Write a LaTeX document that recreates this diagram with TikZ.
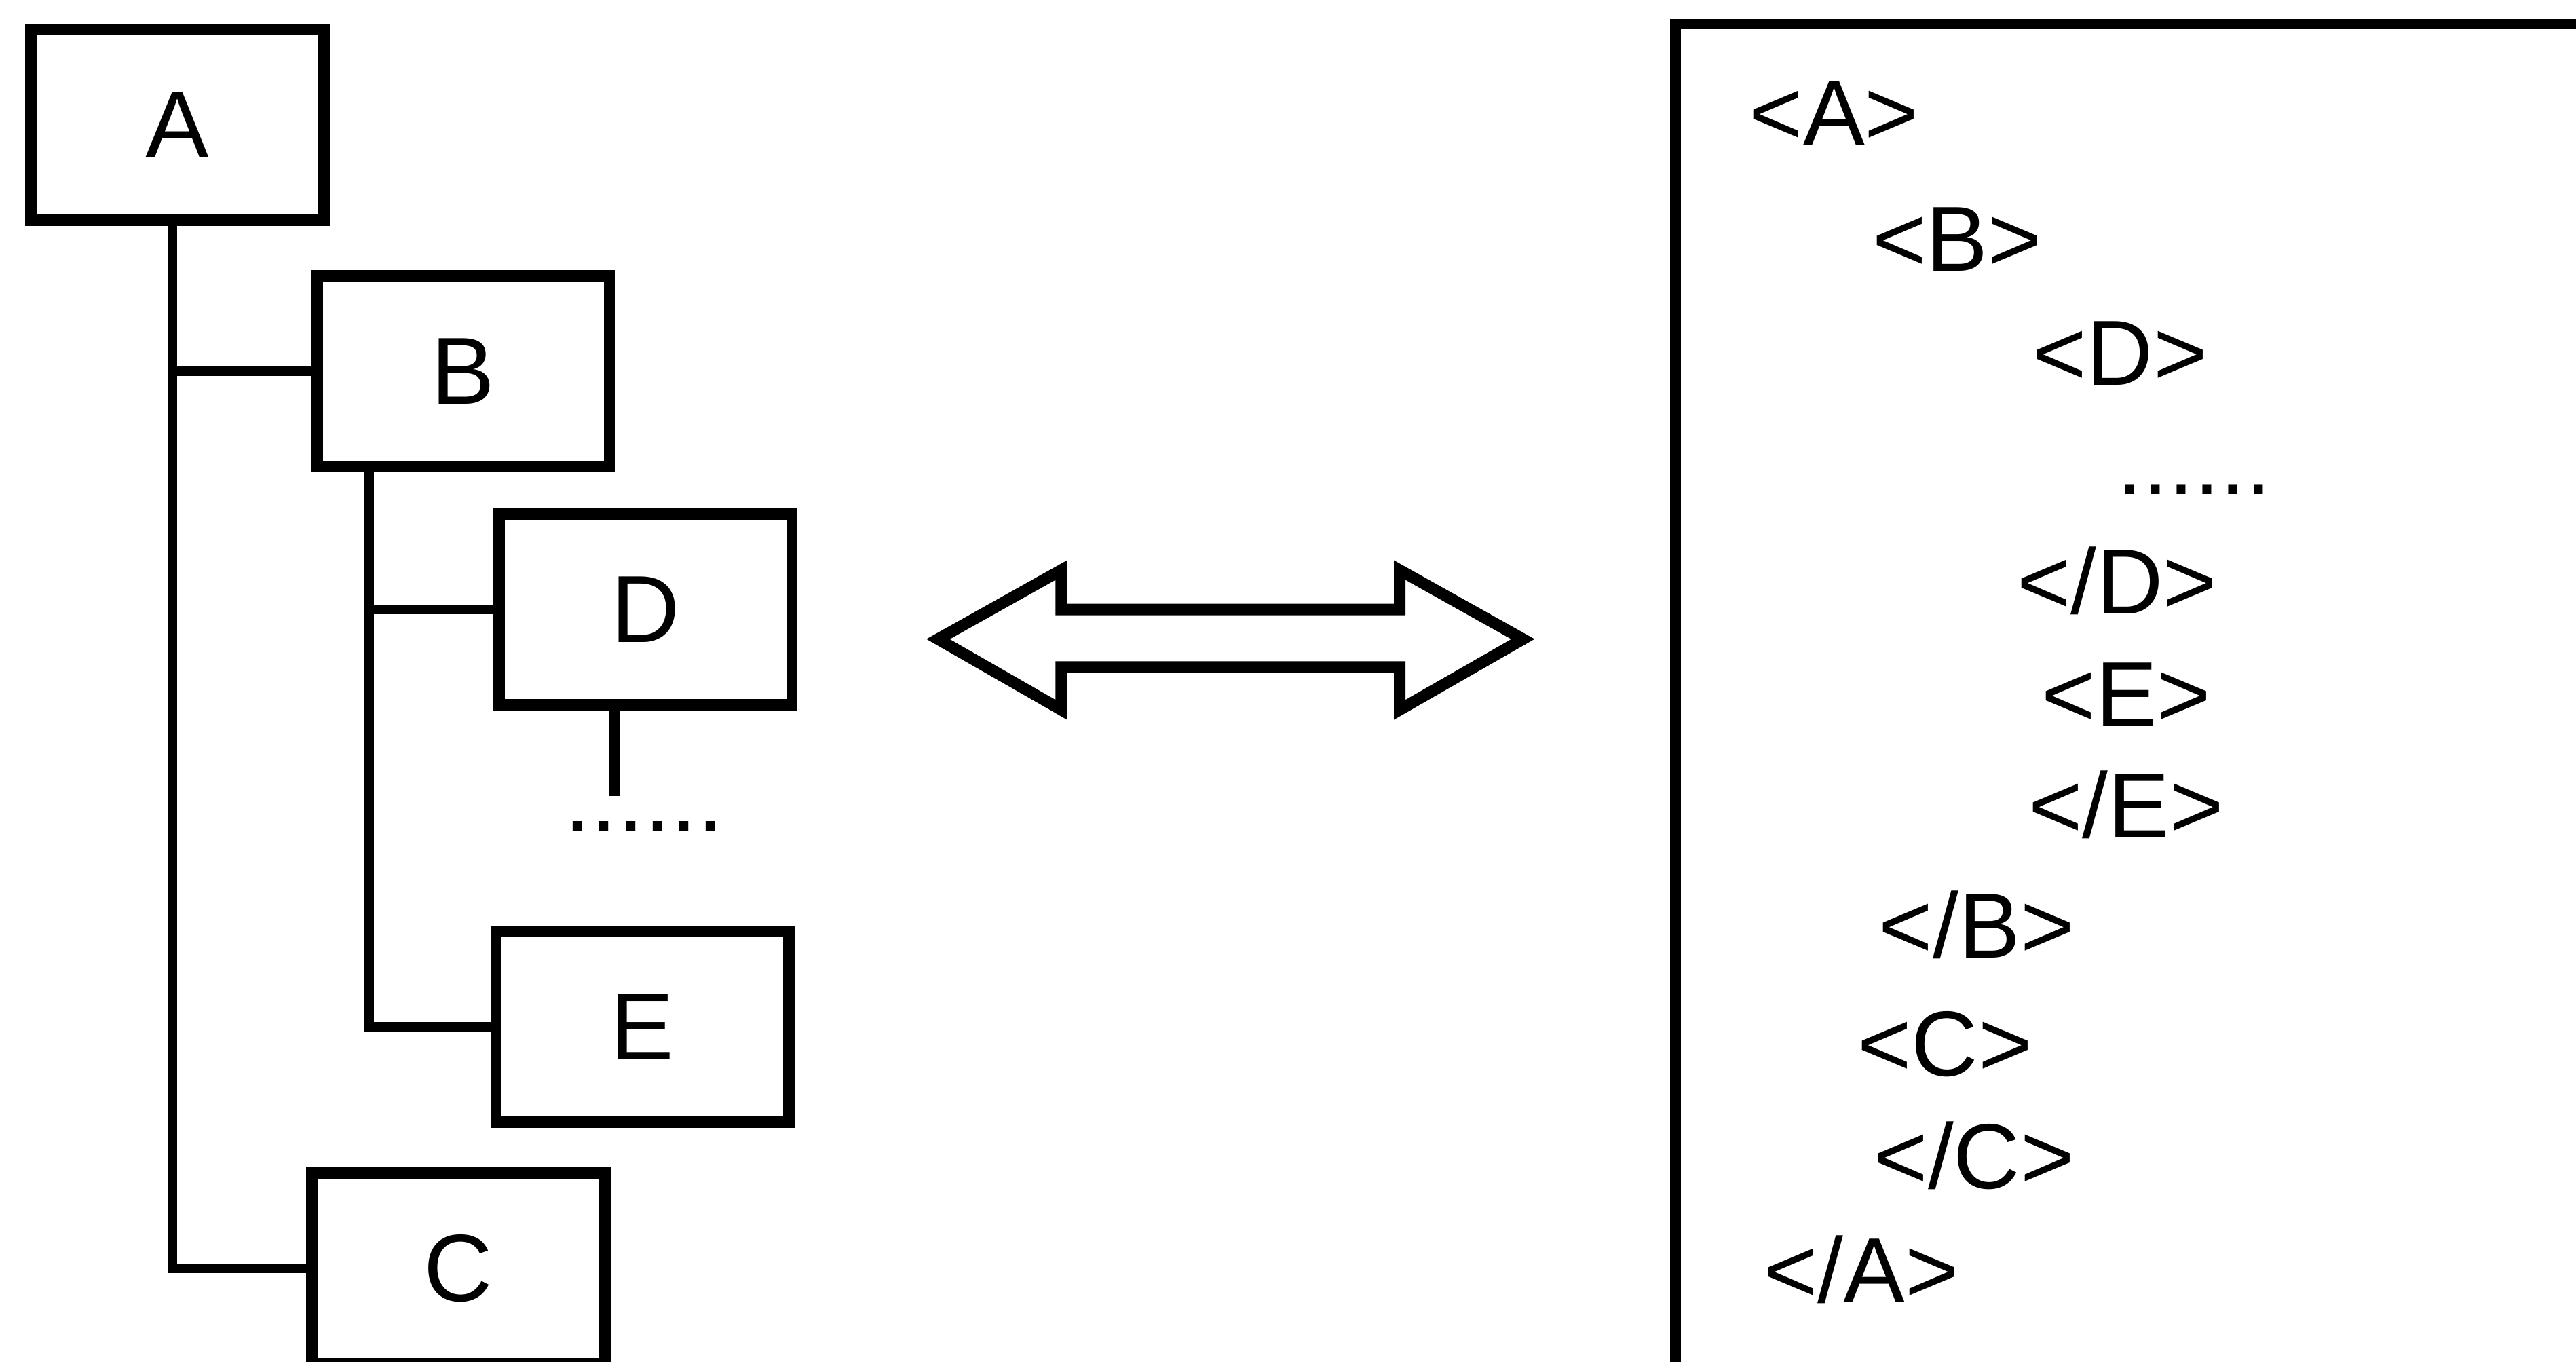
\documentclass[tikz,border=0pt]{standalone}
\usepackage{fontspec}
\setmainfont{Liberation Sans}
\usetikzlibrary{calc}
\begin{document}
\begin{tikzpicture}[x=0.01cm,y=-0.01cm,
  treebox/.style={draw,line width=0.07cm,minimum width=1.78cm,minimum height=1.16cm,inner sep=0pt,font=\fontsize{16.5}{19}\selectfont},
  link/.style={line width=0.06cm},
  tag/.style={anchor=base west,inner sep=0pt,font=\fontsize{16}{19}\selectfont},
  frameline/.style={line width=0.065cm},
  bigarrow/.style={line width=0.07cm,line join=miter}]
\useasboundingbox (0,0) rectangle (1568,829);
\clip (0,0) rectangle (1568,829);
% tree
\node[treebox] (A) at (108,76) {A};
\node[treebox] (B) at (282,226) {B};
\node[treebox] (D) at (393,371) {D};
\node[treebox] (E) at (391,625) {E};
\node[treebox] (C) at (279,772) {C};
\coordinate (av) at ($(A.south)+(-3,0)$);
\draw[link] (av) |- (C.west);
\draw[link] (av |- B.west) -- (B.west);
\coordinate (bv) at ($(B.south west)+(35,0)$);
\draw[link] (bv) |- (E.west);
\draw[link] (bv |- D.west) -- (D.west);
\coordinate (dtop) at ($(D.south)+(-19,0)$);
\coordinate (dend) at ($(D.south)+(-19,52)$);
\draw[link] (dtop) -- (dend);
\node[anchor=base,inner sep=0pt,font=\fontsize{16.5}{19}\selectfont] (tdots) at (392,506) {......};
% double arrow
\draw[bigarrow] (571,389) -- (646,347) -- (646,371) -- (852,371) -- (852,347) -- (927,389) -- (852,432) -- (852,406) -- (646,406) -- (646,432) -- cycle;
% right panel
\draw[frameline] (1580,14.7) -- (1020,14.7) -- (1020,840);
\node[tag] (t1) at (1064,88) {<A>};
\node[tag] (t2) at (1139,165) {<B>};
\node[tag] (t3) at (1236.5,234.5) {<D>};
\node[tag] (t4) at (1288,301) {......};
\node[tag] (t5) at (1227,373.5) {</D>};
\node[tag] (t6) at (1242,442) {<E>};
\node[tag] (t7) at (1234,510) {</E>};
\node[tag] (t8) at (1143,583) {</B>};
\node[tag] (t9) at (1130,655) {<C>};
\node[tag] (t10) at (1140,723.5) {</C>};
\node[tag] (t11) at (1073,793) {</A>};
\end{tikzpicture}
\end{document}
